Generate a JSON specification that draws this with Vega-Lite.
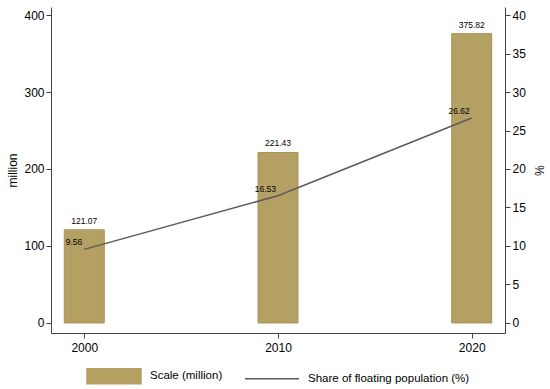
{
  "$schema": "https://vega.github.io/schema/vega-lite/v6.json",
  "width": 454,
  "height": 326,
  "autosize": {"type": "none"},
  "padding": {"left": 51, "top": 7, "right": 45, "bottom": 56},
  "config": {
    "view": {"stroke": null},
    "font": "Liberation Sans",
    "axis": {
      "grid": false,
      "labelFont": "Liberation Sans",
      "labelFontSize": 12,
      "labelColor": "#000",
      "domainColor": "#444",
      "tickColor": "#444",
      "tickSize": 5,
      "titleFont": "Liberation Sans",
      "titleFontSize": 12,
      "titleFontWeight": "normal",
      "titleColor": "#000"
    },
    "legend": {
      "layout": {"bottom": {"anchor": "middle"}}
    }
  },
  "data": {
    "values": [
      {"year": 2000, "scale": 121.07, "share": 9.56},
      {"year": 2010, "scale": 221.43, "share": 16.53},
      {"year": 2020, "scale": 375.82, "share": 26.62}
    ]
  },
  "layer": [
    {
      "layer": [
        {
          "mark": {"type": "bar", "size": 40, "stroke": "#a8925a", "strokeWidth": 1},
          "encoding": {
            "x": {
              "field": "year",
              "type": "quantitative",
              "scale": {"domain": [1998.54, 2021.46], "nice": false, "zero": false},
              "axis": {"values": [2000, 2010, 2020], "format": "d", "title": null, "labelPadding": 4}
            },
            "y": {
              "field": "scale",
              "type": "quantitative",
              "scale": {"domain": [-13, 410.4], "nice": false, "zero": false},
              "axis": {"values": [0, 100, 200, 300, 400], "title": "million", "titlePadding": 4}
            },
            "y2": {"datum": 0},
            "color": {
              "datum": "Scale (million)",
              "type": "nominal",
              "scale": {
                "domain": ["Scale (million)", "Share of floating population (%)"],
                "range": ["#b5a064", "#5a5a5a"]
              },
              "legend": {
                "title": null,
                "orient": "bottom",
                "direction": "horizontal",
                "symbolType": "M-1,-0.28H1V0.28H-1Z",
                "symbolSize": 2916,
                "symbolStrokeWidth": 1.5,
                "labelFontSize": 11.5,
                "labelFont": "Liberation Sans",
                "labelColor": "#000",
                "labelOffset": 8,
                "labelLimit": 0,
                "columnPadding": 19,
                "offset": -5,
                "encode": {
                  "symbols": {
                    "update": {
                      "shape": {"signal": "datum.value === 'Scale (million)' ? 'M-1,-0.28H1V0.28H-1Z' : 'M-1,0H1'"},
                      "fill": {"signal": "datum.value === 'Scale (million)' ? '#b5a064' : 'transparent'"},
                      "stroke": {"signal": "datum.value === 'Scale (million)' ? '#a8925a' : '#5a5a5a'"},
                      "strokeWidth": {"value": 1.5},
                      "opacity": {"value": 1}
                    }
                  }
                }
              }
            }
          }
        },
        {
          "mark": {"type": "text", "fontSize": 8.5, "baseline": "bottom", "dy": -4, "color": "#000"},
          "encoding": {
            "x": {"field": "year", "type": "quantitative"},
            "y": {"field": "scale", "type": "quantitative"},
            "text": {"field": "scale", "type": "quantitative", "format": ".2f"}
          }
        }
      ]
    },
    {
      "layer": [
        {
          "mark": {"type": "line", "strokeWidth": 1.5},
          "encoding": {
            "x": {"field": "year", "type": "quantitative"},
            "y": {
              "field": "share",
              "type": "quantitative",
              "scale": {"domain": [-1.3, 41.04], "nice": false, "zero": false},
              "axis": {"values": [0, 5, 10, 15, 20, 25, 30, 35, 40], "title": "%", "titlePadding": 6}
            },
            "color": {
              "datum": "Share of floating population (%)",
              "type": "nominal",
              "legend": {
                "title": null,
                "orient": "bottom",
                "direction": "horizontal",
                "symbolType": "M-1,-0.28H1V0.28H-1Z",
                "symbolSize": 2916,
                "symbolStrokeWidth": 1.5,
                "labelFontSize": 11.5,
                "labelFont": "Liberation Sans",
                "labelColor": "#000",
                "labelOffset": 8,
                "labelLimit": 0,
                "columnPadding": 19,
                "offset": -5,
                "encode": {
                  "symbols": {
                    "update": {
                      "shape": {"signal": "datum.value === 'Scale (million)' ? 'M-1,-0.28H1V0.28H-1Z' : 'M-1,0H1'"},
                      "fill": {"signal": "datum.value === 'Scale (million)' ? '#b5a064' : 'transparent'"},
                      "stroke": {"signal": "datum.value === 'Scale (million)' ? '#a8925a' : '#5a5a5a'"},
                      "strokeWidth": {"value": 1.5},
                      "opacity": {"value": 1}
                    }
                  }
                }
              }
            }
          }
        },
        {
          "mark": {"type": "text", "fontSize": 8.5, "align": "right", "baseline": "bottom", "dx": -2, "dy": -2, "color": "#000"},
          "encoding": {
            "x": {"field": "year", "type": "quantitative"},
            "y": {"field": "share", "type": "quantitative"},
            "text": {"field": "share", "type": "quantitative", "format": ".2f"}
          }
        }
      ]
    }
  ],
  "resolve": {"scale": {"y": "independent"}}
}
